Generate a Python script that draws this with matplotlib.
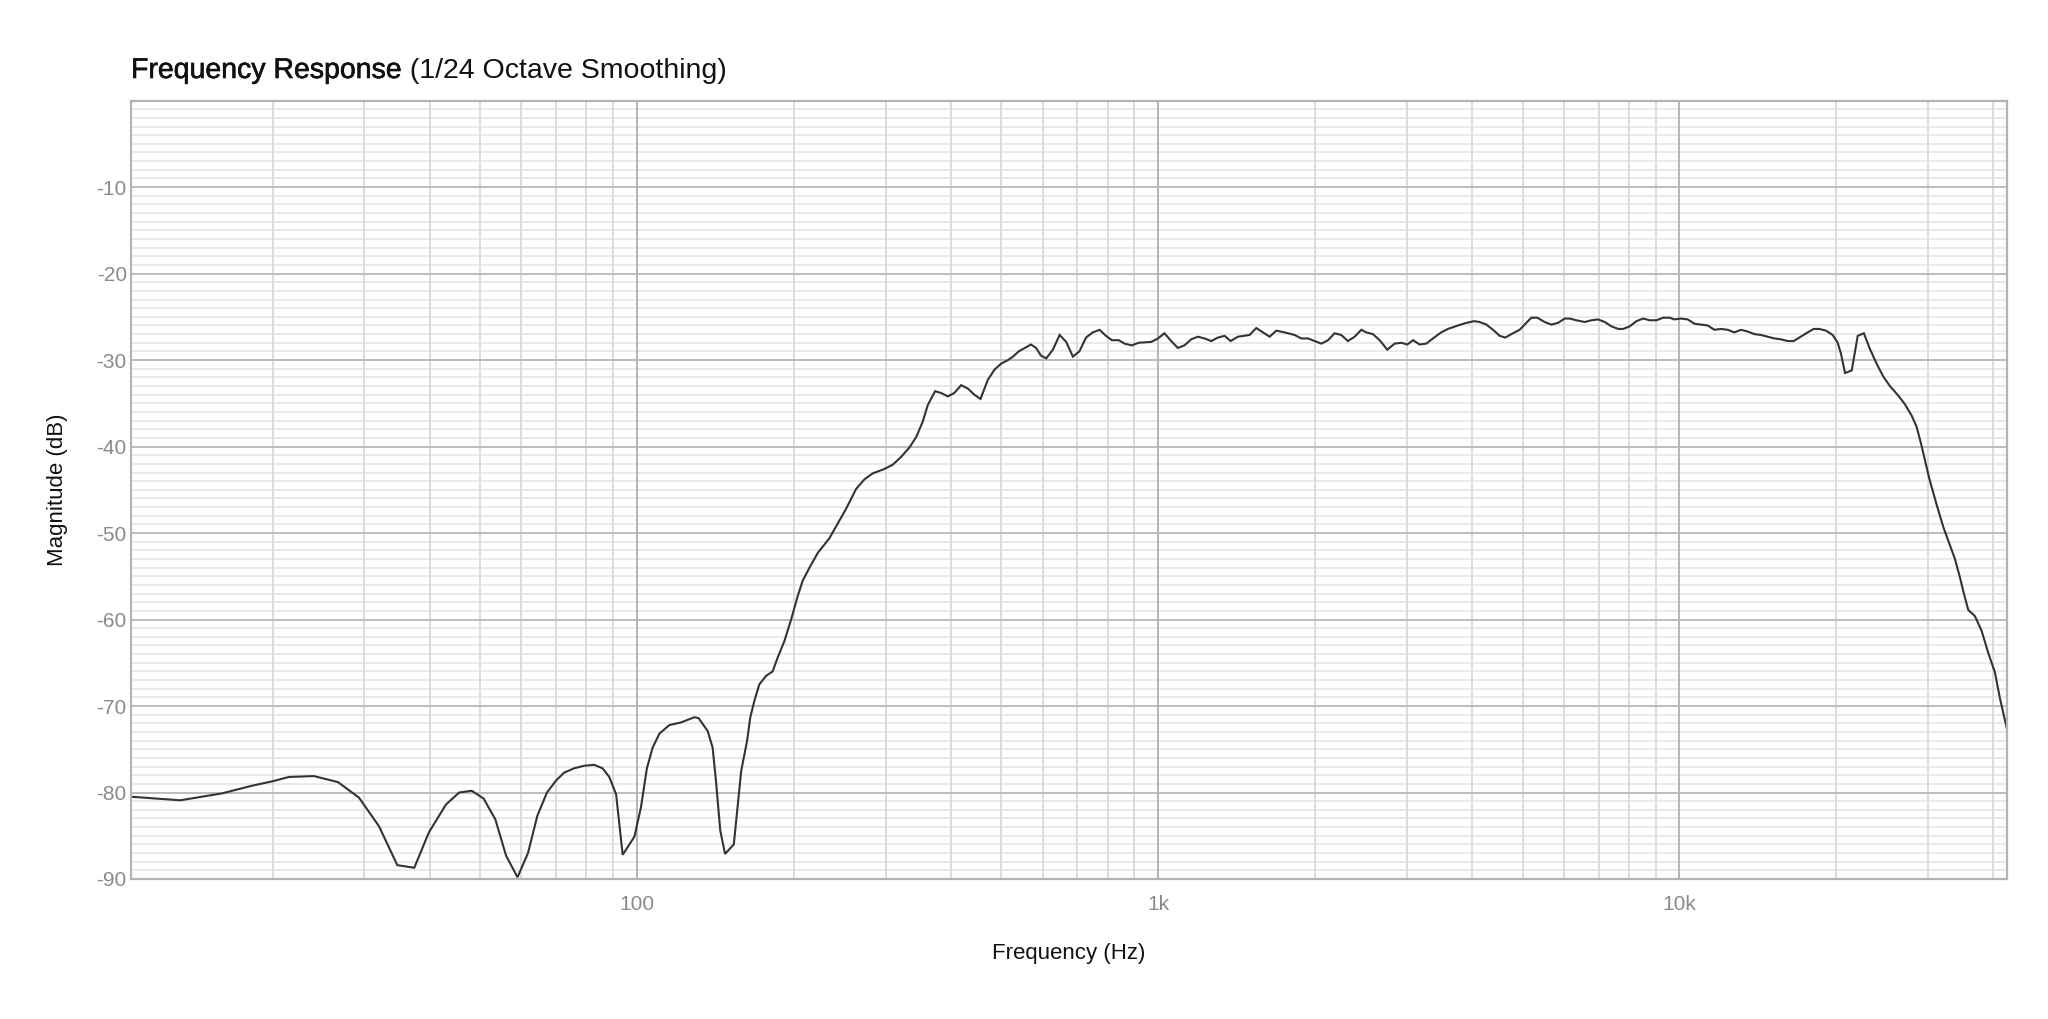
import numpy as np
import matplotlib
matplotlib.use("Agg")
import matplotlib.pyplot as plt
import matplotlib.patheffects as pe
from matplotlib.ticker import FixedLocator, FixedFormatter, NullLocator

plt.rcParams['font.family'] = ['Liberation Sans', 'DejaVu Sans']

# ------------------ Data ------------------
freq_hz = [
    10.77, 13.3, 16.0, 18.3, 20.0, 21.5, 24.0, 26.7, 29.3, 32.0, 34.7, 37.4, 39.9,
    43.0, 45.6, 48.2, 50.8, 53.5, 56.1, 59.0, 61.8, 64.4, 67.2, 70.0, 72.5, 75.8,
    79.3, 82.8, 85.9, 88.5, 91.2, 93.9, 98.9, 101.8, 104.5, 107.2, 110.4, 115.4,
    121.5, 128.8, 131.3, 136.7, 139.7, 141.8, 144.5, 147.6, 153.4, 158.5, 162.7,
    165.0, 168.0, 171.7, 177.0, 182.1, 186.2, 191.8, 197.6, 203.4, 208.0, 214.3,
    222.3, 234.0, 242.8, 251.9, 263.3, 273.1, 283.4, 298.2, 309.5, 321.2, 333.3,
    343.4, 353.5, 361.4, 373.2, 383.2, 394.8, 406.4, 418.8, 431.4, 443.9, 456.1,
    471.0, 485.3, 500, 515, 526.5, 539.9, 555, 570, 583, 596, 610, 628, 647, 666,
    686, 706, 727, 749, 772, 794, 815, 840, 862, 890, 917, 970, 999, 1028, 1059,
    1091, 1123, 1157, 1192, 1227, 1264, 1302, 1341, 1377, 1422, 1497, 1542, 1589,
    1636, 1685, 1748, 1827, 1882, 1938, 1995, 2056, 2118, 2180, 2245, 2312, 2382,
    2453, 2507, 2582, 2660, 2751, 2841, 2927, 3006, 3083, 3173, 3268, 3366, 3491,
    3596, 3760, 3902, 4036, 4137, 4262, 4390, 4520, 4634, 4758, 4937, 5085, 5198,
    5338, 5514, 5679, 5849, 6025, 6159, 6344, 6579, 6776, 6982, 7189, 7405, 7627,
    7797, 8028, 8270, 8517, 8770, 9035, 9305, 9581, 9778, 10070, 10373, 10682,
    11000, 11331, 11668, 12016, 12378, 12743, 13124, 13520, 13921, 14338, 14770,
    15206, 15660, 16131, 16564, 16982, 17622, 18094, 18550, 19108, 19680, 20120,
    20417, 20782, 21404, 21980, 22585, 23190, 23883, 24604, 25331, 26290, 27066,
    27880, 28502, 29140, 30150, 31140, 32075, 32940, 33770, 34515, 35130, 35820,
    36880, 37990, 39140, 40290, 41190, 42430,
]
magnitude_db = [
    -80.5, -80.9, -80.1, -79.2, -78.7, -78.2, -78.1, -78.8, -80.6, -83.9, -88.4, -88.7, -84.6,
    -81.4, -80.0, -79.8, -80.7, -83.1, -87.3, -89.8, -87.0, -82.7, -80.0, -78.6, -77.7, -77.2,
    -76.9, -76.8, -77.2, -78.2, -80.2, -87.2, -85.1, -81.7, -77.2, -74.8, -73.2, -72.2,
    -71.9, -71.3, -71.4, -72.9, -74.8, -78.7, -84.4, -87.1, -86.0, -77.5, -74.0,
    -71.3, -69.4, -67.5, -66.5, -66.0, -64.4, -62.5, -60.0, -57.3, -55.5, -54.0,
    -52.3, -50.6, -48.9, -47.2, -44.9, -43.8, -43.1, -42.6, -42.1, -41.2, -40.1,
    -38.9, -37.1, -35.2, -33.6, -33.8, -34.2, -33.8, -32.9, -33.3, -34.0, -34.5,
    -32.3, -31.1, -30.4, -30.0, -29.6, -29.0, -28.6, -28.2, -28.6, -29.5, -29.8, -28.8, -27.1, -27.9,
    -29.6, -29.0, -27.4, -26.8, -26.5, -27.2, -27.7, -27.7, -28.1, -28.3, -28.0, -27.9, -27.5, -26.9, -27.8,
    -28.6, -28.3, -27.6, -27.3, -27.5, -27.8, -27.4, -27.2, -27.8, -27.3, -27.1, -26.3, -26.8,
    -27.3, -26.6, -26.8, -27.1, -27.5, -27.5, -27.8, -28.1, -27.7, -26.9, -27.1, -27.8, -27.3,
    -26.5, -26.8, -27.0, -27.7, -28.8, -28.1, -28.0, -28.2, -27.7, -28.2, -28.1, -27.5, -26.8,
    -26.4, -26.0, -25.7, -25.5, -25.6, -25.9, -26.5, -27.2, -27.4, -27.0, -26.5, -25.7, -25.1,
    -25.1, -25.6, -25.9, -25.7, -25.2, -25.2, -25.4, -25.6, -25.4, -25.3, -25.6, -26.1, -26.4,
    -26.4, -26.1, -25.5, -25.2, -25.4, -25.4, -25.1, -25.1, -25.3, -25.2, -25.3, -25.8,
    -25.9, -26.0, -26.5, -26.4, -26.5, -26.8, -26.5, -26.7, -27.0, -27.1, -27.3,
    -27.5, -27.6, -27.8, -27.8, -27.4, -26.8, -26.4, -26.4, -26.6, -27.1, -28.0,
    -29.3, -31.5, -31.2, -27.2, -26.9, -28.7, -30.4, -31.9, -33.0, -34.1, -35.1,
    -36.4, -37.7, -39.9, -43.7, -46.7, -49.3, -51.2, -53.0, -55.1, -57.0, -58.9,
    -59.6, -61.3, -63.9, -66.1, -69.1, -72.5,
]

x_major = [100, 1000, 10000]
x_major_labels = ["100", "1k", "10k"]
y_major = list(range(-90, 0, 10))
y_major_labels = [str(v) for v in y_major]

# ------------------ Figure ------------------
fig = plt.figure(figsize=(20.48, 10.19), dpi=100)
ax = fig.add_axes([131 / 2048, 1 - 879 / 1019, (2007 - 131) / 2048, (879 - 100.6) / 1019])

ax.set_xscale('log')
ax.set_xlim(10.7, 42500)
ax.set_ylim(-90, 0)

# grid lines, drawn by hand so the layering matches
x_minor = [m * d for d in (10, 100, 1000, 10000) for m in range(2, 10)]
x_minor = [v for v in x_minor if 10.7 < v < 42500]
for yv in range(-89, 0):
    if yv % 10:
        ax.axhline(yv, color='#e5e5e5', lw=1.15, zorder=0.5)
for xv in x_minor:
    ax.axvline(xv, color='#dcdcdc', lw=1.4, zorder=0.6)
for yv in y_major:
    ax.axhline(yv, color='#bcbcbc', lw=1.4, zorder=0.7)
for xv in x_major:
    ax.axvline(xv, color='#b4b4b4', lw=1.4, zorder=0.8)

ax.plot(freq_hz, magnitude_db, color='#333333', lw=1.5, zorder=3, solid_joinstyle='miter')

ax.xaxis.set_major_locator(FixedLocator(x_major))
ax.xaxis.set_major_formatter(FixedFormatter(x_major_labels))
ax.xaxis.set_minor_locator(NullLocator())
ax.yaxis.set_major_locator(FixedLocator(y_major))
ax.yaxis.set_major_formatter(FixedFormatter(y_major_labels))
ax.yaxis.set_minor_locator(NullLocator())
ax.tick_params(axis='both', length=0, labelsize=15, labelcolor='#8a8a8a')
ax.tick_params(axis='x', pad=11.5)
ax.tick_params(axis='y', pad=3)

for s in ax.spines.values():
    s.set_color('#b3b3b3')
    s.set_linewidth(1.6)
    s.set_zorder(4)

fig.text(1069 / 2048, 1 - 954 / 1019, 'Frequency (Hz)', ha='center', va='center',
         fontsize=16, color='#111111')
fig.text(57 / 2048, 1 - 490 / 1019, 'Magnitude (dB)', ha='center', va='center',
         rotation=90, fontsize=16, color='#111111')

# title: slightly heavier first part, regular second part
t1 = fig.text(131 / 2048, 1 - 78 / 1019, 'Frequency Response', ha='left', va='baseline',
              fontsize=20.5, color='#111111',
              path_effects=[pe.withStroke(linewidth=0.45, foreground='#111111')])
fig.canvas.draw()
bb = t1.get_window_extent()
fig.text(bb.x1 / fig.bbox.width, 1 - 78 / 1019, ' (1/24 Octave Smoothing)', ha='left',
         va='baseline', fontsize=20.5, color='#111111')

fig.savefig('out.png', dpi=100, facecolor='white')
